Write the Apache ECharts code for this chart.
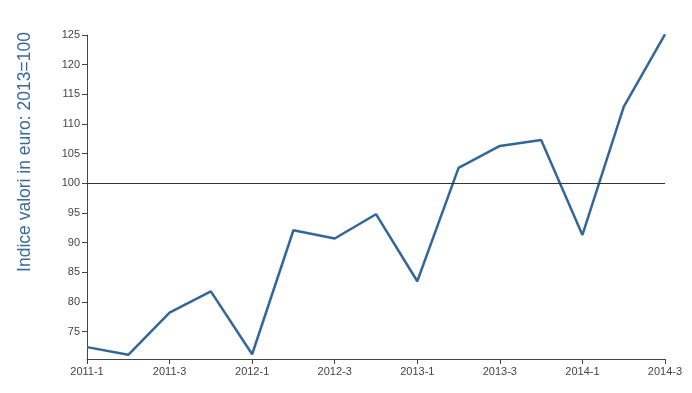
<!DOCTYPE html>
<html>
<head>
<meta charset="utf-8">
<script src="https://cdn.jsdelivr.net/npm/echarts@6/dist/echarts.min.js"></script>
<style>html,body{margin:0;padding:0;background:#fff}#c{width:692px;height:393px}</style>
</head>
<body>
<div id="c"></div>
<script>
var categories = ['2011-1','2011-2','2011-3','2011-4','2012-1','2012-2','2012-3','2012-4','2013-1','2013-2','2013-3','2013-4','2014-1','2014-2','2014-3'];
var values = [72.4, 71.1, 78.2, 81.8, 71.2, 92.1, 90.7, 94.8, 83.5, 102.6, 106.3, 107.3, 91.3, 112.9, 125.1];
var yTicks = [75, 80, 85, 90, 95, 100, 105, 110, 115, 120, 125];
var refValue = 100;
var yTitle = 'Indice valori in euro: 2013=100';

var chart = echarts.init(document.getElementById('c'), null, {renderer: 'canvas'});
var font = 'Helvetica, "Liberation Sans", Arial, sans-serif';
chart.setOption({
  animation: false,
  grid: {left: 87, right: 27, top: 35, bottom: 34},
  graphic: [{
    type: 'text',
    x: 25,
    y: 152,
    rotation: Math.PI / 2,
    style: {
      text: yTitle,
      fill: '#3a6a9c',
      fontSize: 17.5,
      fontFamily: font,
      align: 'center',
      verticalAlign: 'middle'
    }
  }],
  xAxis: {
    type: 'category',
    data: categories,
    boundaryGap: false,
    axisLine: {lineStyle: {color: '#444', width: 1}},
    axisTick: {show: true, interval: 1, length: 5, lineStyle: {color: '#444'}},
    axisLabel: {interval: 1, color: '#444', fontSize: 11, fontFamily: font, margin: 7},
    splitLine: {show: false}
  },
  yAxis: {
    type: 'value',
    min: 70.4,
    max: 125,
    axisLine: {show: true, lineStyle: {color: '#444', width: 1}},
    axisTick: {show: true, length: 5, customValues: yTicks, lineStyle: {color: '#444'}},
    axisLabel: {customValues: yTicks, color: '#444', fontSize: 11, fontFamily: font, margin: 7},
    splitLine: {show: false}
  },
  series: [{
    type: 'line',
    data: values,
    symbol: 'none',
    lineStyle: {color: '#336699', width: 2.5},
    markLine: {
      silent: true,
      symbol: ['none', 'none'],
      label: {show: false},
      lineStyle: {color: '#333', width: 1, type: 'solid'},
      data: [{yAxis: refValue}]
    }
  }]
});
</script>
</body>
</html>
